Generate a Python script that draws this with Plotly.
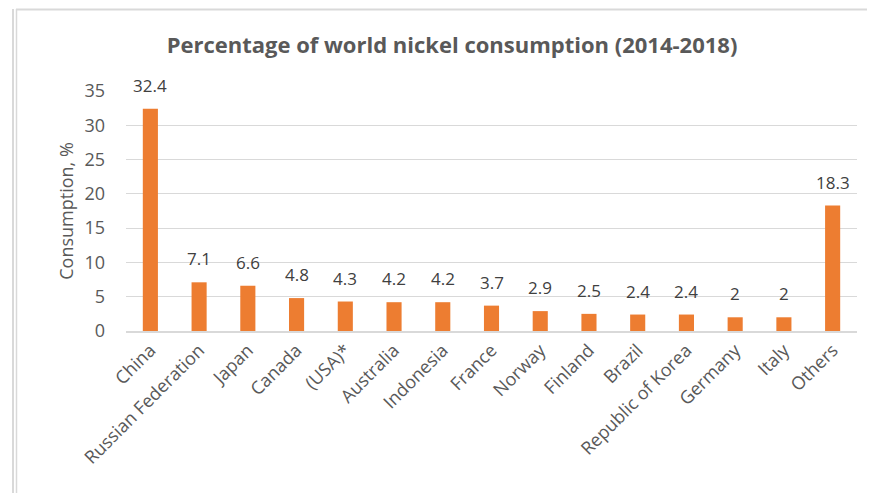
import plotly.graph_objects as go

categories = ["China", "Russian Federation", "Japan", "Canada", "(USA)*", "Australia",
              "Indonesia", "France", "Norway", "Finland", "Brazil", "Republic of Korea",
              "Germany", "Italy", "Others"]
values = [32.4, 7.1, 6.6, 4.8, 4.3, 4.2, 4.2, 3.7, 2.9, 2.5, 2.4, 2.4, 2, 2, 18.3]
y_ticks = [0, 5, 10, 15, 20, 25, 30, 35]

FONT = "Open Sans, Liberation Sans, sans-serif"
TXT = "#595959"
OFF = 8  # page body margin offset

fig = go.Figure()
fig.add_trace(go.Bar(x=categories, y=values, marker=dict(color="#ED7D31", line=dict(width=0)),
                     width=0.31, hoverinfo="x+y"))

for c, v in zip(categories, values):
    fig.add_annotation(x=c, y=v, text=str(v), showarrow=False, yanchor="bottom", yshift=10,
                       font=dict(family=FONT, size=17, color="#404040"))

fig.update_layout(
    width=877, height=493,
    margin=dict(l=126 - OFF, r=20 + OFF, t=91 - OFF, b=162 + OFF, autoexpand=False),
    paper_bgcolor="white", plot_bgcolor="white",
    showlegend=False,
    bargap=0.69,
    title=dict(text="<b>Percentage of world nickel consumption (2014-2018)</b>",
               x=(452 - 126) / 731, xref="paper", y=1 - (45 - OFF) / 493,
               yanchor="middle", xanchor="center",
               font=dict(family=FONT, size=22, color=TXT)),
    xaxis=dict(tickangle=-45, tickfont=dict(family=FONT, size=18, color=TXT), automargin=False,
               showline=True, linecolor="#d9d9d9", linewidth=1.5, ticks="", showgrid=False),
    yaxis=dict(range=[0, 35], tickvals=y_ticks, tickfont=dict(family=FONT, size=18, color=TXT),
               showgrid=True, gridcolor="#d9d9d9", gridwidth=1, zeroline=False, ticks="",
               automargin=False, ticklabelstandoff=20,
               title=dict(text="Consumption, %", font=dict(family=FONT, size=18, color=TXT),
                          standoff=6)),
)

# chart frame lines (screen coords -> paper coords of plot area 126..857 x, 91..331 y)
def px(x):
    return (x - 126) / 731

def py(y):
    return (331 - y) / 240

fig.add_shape(type="line", xref="paper", yref="paper", x0=px(13), x1=px(13), y0=py(520), y1=py(9),
              line=dict(color="#d9d9d9", width=2))
fig.add_shape(type="line", xref="paper", yref="paper", x0=px(16.5), x1=px(16.5), y0=py(520), y1=py(9),
              line=dict(color="#d9d9d9", width=1.5))
fig.add_shape(type="line", xref="paper", yref="paper", x0=px(16), x1=px(867), y0=py(9.5), y1=py(9.5),
              line=dict(color="#d9d9d9", width=2))

fig.write_html("out.html")
